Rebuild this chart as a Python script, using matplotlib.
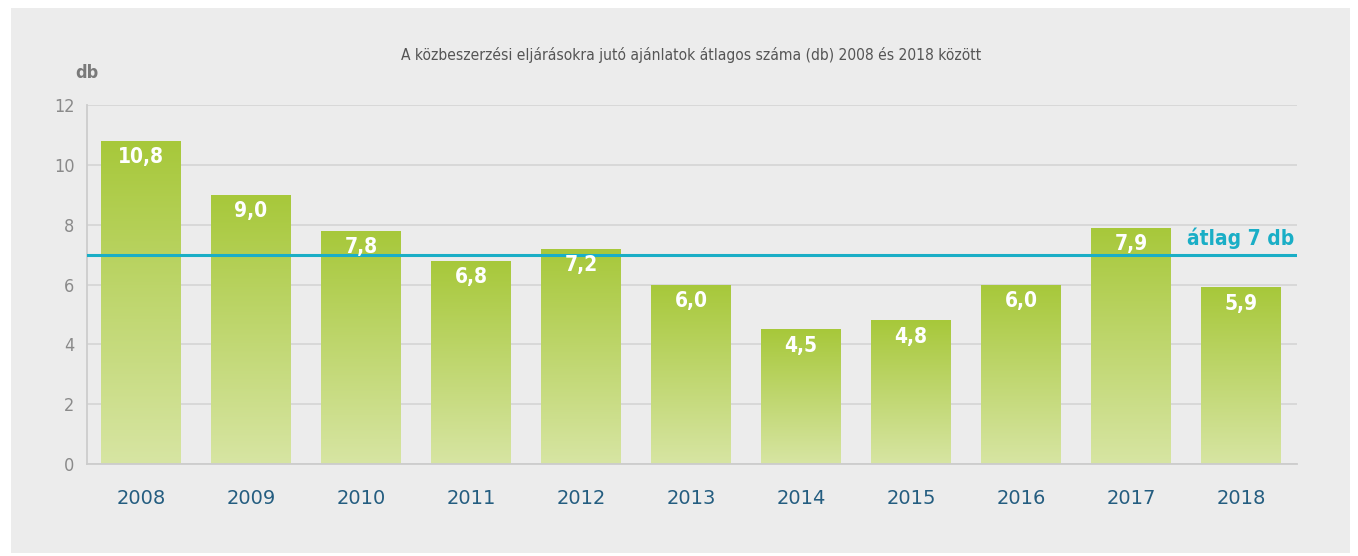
import matplotlib.pyplot as plt
import numpy as np
from matplotlib.patches import Rectangle
from matplotlib.colors import LinearSegmentedColormap

years = ["2008", "2009", "2010", "2011", "2012", "2013", "2014", "2015", "2016", "2017", "2018"]
values = [10.8, 9.0, 7.8, 6.8, 7.2, 6.0, 4.5, 4.8, 6.0, 7.9, 5.9]
average = 7
title = "A közbeszerzési eljárásokra jutó ajánlatok átlagos száma (db) 2008 és 2018 között"
avg_label = "átlag 7 db"
yticks = [0, 2, 4, 6, 8, 10, 12]

plt.rcParams["font.family"] = ["DejaVu Sans"]
plt.rcParams["font.stretch"] = "condensed"

bg = "#ececec"
fig = plt.figure(figsize=(13.58, 5.56), dpi=100, facecolor="white")
fig.patches.append(Rectangle((11 / 1358, 0.005), 1339 / 1358, 1 - 8 / 556 - 0.005,
                             transform=fig.transFigure, facecolor=bg, edgecolor="none", zorder=-10))
ax = fig.add_axes([87 / 1358, 1 - 464 / 556, 1210 / 1358, 359 / 556])
ax.patch.set_alpha(0)

x = np.arange(len(years))
bars = ax.bar(x, values, width=80 / 110, color="none", zorder=2)
cmap = LinearSegmentedColormap.from_list("g", ["#d7e5a3", "#a7c83a"])
grad = np.linspace(0, 1, 256).reshape(-1, 1)
for b, v in zip(bars, values):
    im = ax.imshow(grad, cmap=cmap, aspect="auto", origin="lower",
                   extent=[b.get_x(), b.get_x() + b.get_width(), 0, v], zorder=2)
    im.set_clip_path(b)
    ax.text(b.get_x() + b.get_width() / 2, v - 0.55, f"{v:.1f}".replace(".", ","),
            ha="center", va="center", color="white", fontsize=15, fontweight="bold", zorder=4)

ax.axhline(average, color="#1aaec6", lw=2.2, zorder=3)
ax.text(10.48, average + 0.2, avg_label, ha="right", va="bottom", color="#1aaec6",
        fontsize=15, fontweight="bold", zorder=4)

ax.set_xlim(-0.491, 10.509)
ax.set_ylim(0, 12)
ax.set_yticks(yticks)
ax.grid(axis="y", color="#d6d6d6", lw=1.3, zorder=1)
ax.set_axisbelow(True)
for s in ["top", "right"]:
    ax.spines[s].set_visible(False)
for s in ["left", "bottom"]:
    ax.spines[s].set_color("#cccccc")
    ax.spines[s].set_linewidth(1.3)
ax.set_xticks(x)
ax.set_xticklabels(years, fontsize=14, color="#245d80", fontstretch="normal")
ax.tick_params(axis="x", length=0, pad=18)
ax.tick_params(axis="y", length=0, pad=9, labelsize=13, labelcolor="#8a8a8a")

fig.text(691 / 1358, 1 - 55 / 556, title, ha="center", va="center", fontsize=11.2, color="#555555")
fig.text(87 / 1358, 1 - 73 / 556, "db", ha="center", va="center", fontsize=13,
         fontweight="bold", color="#7a7a7a")

fig.savefig("out.png", dpi=100, facecolor="white")
